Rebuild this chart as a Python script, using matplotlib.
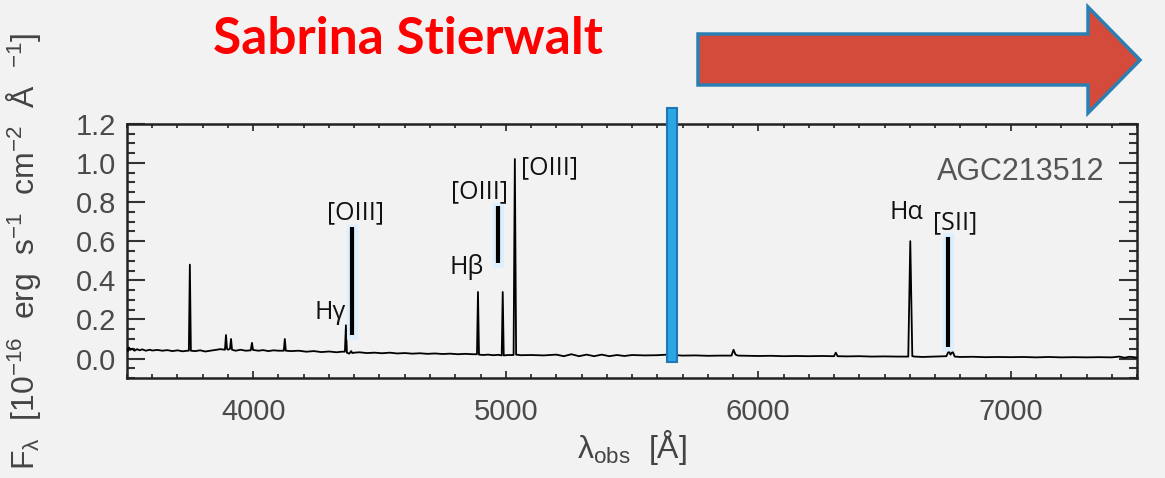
import matplotlib
matplotlib.use("Agg")
import matplotlib.pyplot as plt
from matplotlib.patches import Polygon, Rectangle
from matplotlib.ticker import MultipleLocator

plt.rcParams["mathtext.default"] = "regular"

wave = [3500, 3504, 3508, 3512, 3520, 3530, 3540, 3550, 3560, 3575, 3590, 3600, 3620,
        3640, 3660, 3680, 3700, 3720, 3740, 3745, 3749, 3753, 3770, 3790, 3810, 3830,
        3850, 3870, 3888, 3892, 3896, 3900, 3908, 3912, 3916, 3930, 3950, 3970, 3990,
        3995, 3999, 4020, 4040, 4060, 4080, 4100, 4121, 4125, 4129, 4150, 4180, 4210,
        4240, 4270, 4300, 4330, 4350, 4363, 4367, 4371, 4380, 4388, 4392, 4400, 4420,
        4450, 4480, 4510, 4540, 4570, 4600, 4630, 4660, 4690, 4720, 4750, 4780, 4810,
        4840, 4870, 4886, 4890, 4894, 4910, 4930, 4950, 4970, 4984, 4988, 4992, 5010,
        5031, 5036, 5041, 5060, 5100, 5150, 5200, 5230, 5260, 5290, 5320, 5350, 5380,
        5410, 5440, 5470, 5500, 5550, 5600, 5640, 5700, 5750, 5800, 5850, 5894, 5902,
        5910, 5920, 5970, 6000, 6050, 6100, 6150, 6200, 6250, 6300, 6307, 6314, 6350,
        6400, 6450, 6500, 6550, 6594, 6602, 6610, 6620, 6650, 6700, 6745, 6755, 6761,
        6770, 6778, 6800, 6850, 6900, 6950, 7000, 7050, 7100, 7150, 7200, 7250, 7300,
        7350, 7400, 7430, 7450, 7470, 7500]
flux = [0.050, 0.038, 0.056, 0.044, 0.050, 0.040, 0.048, 0.042, 0.047, 0.040, 0.045, 0.041, 0.044,
        0.040, 0.043, 0.038, 0.042, 0.037, 0.040, 0.040, 0.480, 0.040, 0.038, 0.042, 0.036, 0.040,
        0.044, 0.048, 0.045, 0.120, 0.050, 0.045, 0.050, 0.100, 0.045, 0.040, 0.045, 0.040, 0.042,
        0.080, 0.044, 0.040, 0.043, 0.038, 0.042, 0.040, 0.040, 0.100, 0.040, 0.038, 0.040, 0.035,
        0.038, 0.033, 0.036, 0.032, 0.035, 0.035, 0.170, 0.030, 0.025, 0.038, 0.028, 0.030, 0.032,
        0.028, 0.030, 0.027, 0.030, 0.026, 0.028, 0.025, 0.027, 0.024, 0.026, 0.023, 0.025, 0.022,
        0.024, 0.022, 0.022, 0.340, 0.020, 0.018, 0.020, 0.017, 0.019, 0.016, 0.340, 0.016, 0.018,
        0.018, 1.020, 0.020, 0.017, 0.018, 0.016, 0.020, 0.012, 0.022, 0.012, 0.020, 0.012, 0.020,
        0.012, 0.018, 0.013, 0.018, 0.016, 0.017, 0.020, 0.015, 0.016, 0.014, 0.015, 0.015, 0.045,
        0.020, 0.015, 0.014, 0.013, 0.014, 0.012, 0.013, 0.012, 0.013, 0.012, 0.030, 0.012, 0.011,
        0.012, 0.010, 0.011, 0.010, 0.010, 0.600, 0.012, 0.010, 0.008, 0.010, 0.012, 0.040, 0.020,
        0.035, 0.010, 0.008, 0.009, 0.007, 0.008, 0.007, 0.008, 0.006, 0.008, 0.006, 0.007, 0.006,
        0.007, 0.006, 0.010, 0.004, 0.009, 0.005]

# line labels: text, x, y, alignment
labels = ["[OIII]", "H\u03b3", "[OIII]", "H\u03b2", "[OIII]", "H\u03b1", "[SII]"]
label_x = [4403, 4368, 4897, 4846, 5062, 6588, 6778]
label_y = [0.744, 0.236, 0.851, 0.467, 0.974, 0.749, 0.692]
label_ha = ["center", "right", "center", "center", "left", "center", "center"]

# thick marker bars: wavelength, bottom, top
bar_x = [4391, 4969, 6751]
bar_lo = [0.12, 0.49, 0.06]
bar_hi = [0.67, 0.78, 0.62]

bg = "#f2f2f2"
fig = plt.figure(figsize=(11.65, 4.78), dpi=100, facecolor=bg)
ax = fig.add_axes([0.109, 0.209, 0.867, 0.532], facecolor=bg)

ax.plot(wave, flux, color="black", lw=1.3, zorder=3)

for x, lo, hi in zip(bar_x, bar_lo, bar_hi):
    ax.plot([x, x], [lo - 0.02, hi + 0.02], color="#dcefff", lw=8, solid_capstyle="butt", zorder=4)
    ax.plot([x, x], [lo, hi], color="black", lw=3, solid_capstyle="butt", zorder=5)

for t, x, y, ha in zip(labels, label_x, label_y, label_ha):
    ax.text(x, y, t, ha=ha, va="center", fontsize=18, family="Open Sans", color="#111111", zorder=6)

ax.text(7372, 0.954, "AGC213512", ha="right", va="center", fontsize=22,
        family="Liberation Sans", color="#555555")

ax.set_xlim(3500, 7500)
ax.set_ylim(-0.1, 1.2)
ax.xaxis.set_major_locator(MultipleLocator(1000))
ax.xaxis.set_minor_locator(MultipleLocator(100))
ax.yaxis.set_major_locator(MultipleLocator(0.2))
ax.yaxis.set_minor_locator(MultipleLocator(0.05))
ax.tick_params(axis="both", which="both", direction="in", top=True, right=True,
               colors="#333333", labelcolor="#4a4a4a", labelsize=21)
ax.tick_params(axis="y", which="major", length=13, width=1.5, pad=8)
ax.tick_params(axis="y", which="minor", length=6, width=1.5)
ax.tick_params(axis="x", which="major", length=5, width=1.3, pad=14)
ax.tick_params(axis="x", which="minor", length=3, width=1.3)
ax.set_yticks([0.0, 0.2, 0.4, 0.6, 0.8, 1.0, 1.2])
ax.set_yticklabels(["0.0", "0.2", "0.4", "0.6", "0.8", "1.0", "1.2"])
for lab in ax.get_xticklabels() + ax.get_yticklabels():
    lab.set_family("Liberation Sans")
for s in ax.spines.values():
    s.set_linewidth(1.8)
    s.set_color("#222222")

ax.set_xlabel("\u03bb$_{obs}$  [\u00c5]", fontsize=23, color="#444444", labelpad=2,
              family="Liberation Sans")
ax.set_ylabel("F$_\u03bb$  [10$^{-16}$  erg  s$^{-1}$  cm$^{-2}$  \u00c5  $^{-1}$]",
              fontsize=23, color="#444444", labelpad=10, family="Liberation Sans")
ax.yaxis.set_label_coords(-0.083, 0.5)

# blue marker bar across the plot
ax.add_patch(Rectangle((5638, -0.02), 40, 1.30, facecolor="#2aa6e2", edgecolor="#1d78b4",
                       lw=1.5, clip_on=False, zorder=7))

# red arrow at the top, in figure pixels
W, H = 1165, 478
arrow_px = [(698, 34), (1088, 34), (1088, 7), (1140, 60), (1088, 113), (1088, 85), (698, 85)]
fig.patches.append(Polygon([(x / W, 1 - y / H) for x, y in arrow_px], closed=True,
                           facecolor="#d44b3b", edgecolor="#2b7fb2", lw=2.5,
                           transform=fig.transFigure, figure=fig))

fig.text(408 / W, 1 - 40 / H, "Sabrina Stierwalt", ha="center", va="center", fontsize=37,
         fontweight="bold", family="Lato", color="#ff0000")

fig.savefig("out.png", dpi=100, facecolor=bg)
